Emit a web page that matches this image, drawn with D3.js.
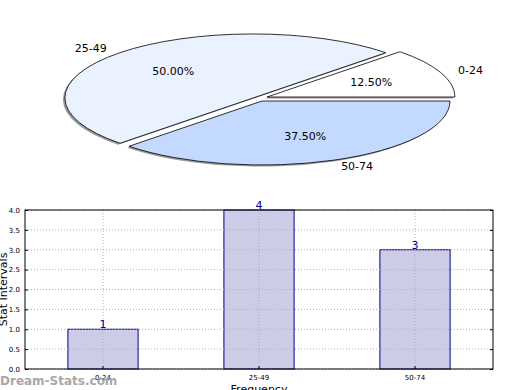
<!DOCTYPE html>
<html lang="en">
<head>
    <meta charset="UTF-8">
    <title>Stat Intervals</title>
    <style>
        body, html {
            margin: 0;
            padding: 0;
            width: 520px;
            height: 390px;
            overflow: hidden;
            background: #fff;
        }
        text {
            font-family: "DejaVu Sans", sans-serif;
        }
        .grid line {
            stroke: #b0b0b0;
            stroke-dasharray: 1,2;
        }
    </style>
    <script src="https://d3js.org/d3.v7.min.js"></script>
</head>
<body>
    <div id="chart"></div>

    <script>
        const categories = ["0-24", "25-49", "50-74"];
        const counts = [1, 4, 3];
        const percentLabels = ["12.50%", "50.00%", "37.50%"];
        const pieColors = ["#ffffff", "#eaf1ff", "#c4d9ff"];
        const yTicks = [0, 0.5, 1, 1.5, 2, 2.5, 3, 3.5, 4];

        const width = 520, height = 390;

        const svg = d3.select("#chart")
            .append("svg")
            .attr("width", width)
            .attr("height", height);

        // ---- pie (squashed ellipse, matplotlib style) ----
        const cx = 262, cy = 100, rx = 188, ry = 64;
        const explode = [[5, -3], [-9, -2], [0, 1]];

        // start at 3 o'clock and go counter-clockwise
        const pie = d3.pie().sort(null)
            .startAngle(Math.PI / 2)
            .endAngle(Math.PI / 2 - 2 * Math.PI);
        const arcs = pie(counts);
        const arc = d3.arc().innerRadius(0).outerRadius(rx);
        const labelArc = d3.arc().innerRadius(rx * 0.6).outerRadius(rx * 0.6);
        const outerArc = d3.arc().innerRadius(rx * 1.1).outerRadius(rx * 1.1);

        const pieG = svg.append("g");

        // shadow
        pieG.selectAll(".shadow")
            .data(arcs)
            .enter().append("path")
            .attr("d", arc)
            .attr("fill", "#999")
            .attr("transform", (d, i) => `translate(${cx + explode[i][0] - 2},${cy + explode[i][1] + 1.5}) scale(1,${ry / rx})`);

        pieG.selectAll(".slice")
            .data(arcs)
            .enter().append("path")
            .attr("d", arc)
            .attr("fill", (d, i) => pieColors[i])
            .attr("stroke", "#000")
            .attr("stroke-width", 0.8)
            .attr("vector-effect", "non-scaling-stroke")
            .attr("transform", (d, i) => `translate(${cx + explode[i][0]},${cy + explode[i][1]}) scale(1,${ry / rx})`);

        pieG.selectAll(".pct")
            .data(arcs)
            .enter().append("text")
            .attr("x", (d, i) => cx + explode[i][0] + labelArc.centroid(d)[0])
            .attr("y", (d, i) => cy + explode[i][1] + labelArc.centroid(d)[1] * ry / rx)
            .attr("dy", "0.35em")
            .attr("text-anchor", "middle")
            .attr("font-size", 11)
            .text((d, i) => percentLabels[i]);

        pieG.selectAll(".cat")
            .data(arcs)
            .enter().append("text")
            .attr("x", (d, i) => cx + explode[i][0] + outerArc.centroid(d)[0])
            .attr("y", (d, i) => cy + explode[i][1] + outerArc.centroid(d)[1] * ry / rx)
            .attr("dy", "0.35em")
            .attr("text-anchor", d => outerArc.centroid(d)[0] >= 0 ? "start" : "end")
            .attr("font-size", 11)
            .text((d, i) => categories[i]);

        // ---- bar chart ----
        const m = { left: 25, right: 493, top: 210, bottom: 369 };

        const x = d3.scaleBand()
            .domain(categories)
            .range([m.left, m.right])
            .paddingInner(0.55)
            .paddingOuter(0.275);

        const y = d3.scaleLinear()
            .domain([0, 4])
            .range([m.bottom, m.top]);

        const barG = svg.append("g");

        barG.selectAll(".bar")
            .data(counts)
            .enter().append("rect")
            .attr("x", (d, i) => x(categories[i]))
            .attr("y", d => y(d))
            .attr("width", x.bandwidth())
            .attr("height", d => y(0) - y(d))
            .attr("fill", "#ccccE6")
            .attr("stroke", "#00008b")
            .attr("stroke-width", 1);

        // dotted grid, drawn above the bars like matplotlib
        barG.append("g").attr("class", "grid")
            .selectAll("line")
            .data(categories)
            .enter().append("line")
            .attr("x1", d => x(d) + x.bandwidth() / 2)
            .attr("x2", d => x(d) + x.bandwidth() / 2)
            .attr("y1", m.top).attr("y2", m.bottom);
        barG.append("g").attr("class", "grid")
            .selectAll("line")
            .data(yTicks)
            .enter().append("line")
            .attr("x1", m.left).attr("x2", m.right)
            .attr("y1", d => y(d)).attr("y2", d => y(d));

        barG.selectAll(".val")
            .data(counts)
            .enter().append("text")
            .attr("x", (d, i) => x(categories[i]) + x.bandwidth() / 2)
            .attr("y", d => y(d) - 1)
            .attr("text-anchor", "middle")
            .attr("font-size", 11)
            .attr("fill", "#00008b")
            .text(d => d);

        // frame
        barG.append("rect")
            .attr("x", m.left).attr("y", m.top)
            .attr("width", m.right - m.left).attr("height", m.bottom - m.top)
            .attr("fill", "none")
            .attr("stroke", "#000")
            .attr("stroke-width", 1);

        const yAxis = d3.axisLeft(y).tickValues(yTicks).tickSizeInner(-3).tickSizeOuter(0)
            .tickFormat(d3.format(".1f")).tickPadding(5);
        const ya = barG.append("g").attr("transform", `translate(${m.left},0)`).call(yAxis);
        ya.select(".domain").remove();
        ya.selectAll("text").attr("font-size", 7).attr("font-family", "DejaVu Sans");

        const yAxisR = d3.axisRight(y).tickValues(yTicks).tickSizeInner(-3).tickSizeOuter(0).tickFormat("");
        const yr = barG.append("g").attr("transform", `translate(${m.right},0)`).call(yAxisR);
        yr.select(".domain").remove();

        const xAxis = d3.axisBottom(x).tickSizeInner(-3).tickSizeOuter(0).tickPadding(6);
        const xa = barG.append("g").attr("transform", `translate(0,${m.bottom})`).call(xAxis);
        xa.select(".domain").remove();
        xa.selectAll("text").attr("font-size", 7).attr("font-family", "DejaVu Sans");

        svg.append("text")
            .attr("transform", `translate(7,${(m.top + m.bottom) / 2}) rotate(-90)`)
            .attr("text-anchor", "middle")
            .attr("font-size", 11)
            .text("Stat Intervals");

        svg.append("text")
            .attr("x", (m.left + m.right) / 2)
            .attr("y", 393)
            .attr("text-anchor", "middle")
            .attr("font-size", 11)
            .text("Frequency");

        svg.append("text")
            .attr("x", 0)
            .attr("y", 385)
            .attr("font-size", 12)
            .attr("font-weight", "bold")
            .attr("fill", "#999")
            .attr("opacity", 0.85)
            .text("Dream-Stats.com");
    </script>
</body>
</html>
